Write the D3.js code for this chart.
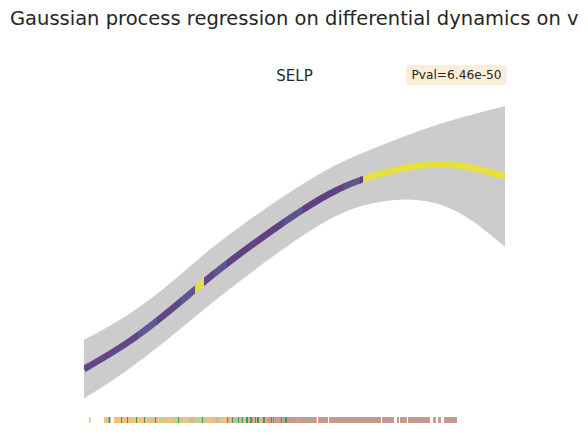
<!DOCTYPE html>
<html><head><meta charset="utf-8">
<script src="https://cdn.jsdelivr.net/npm/d3@7"></script>
<style>body{margin:0;background:#fff;} svg{display:block;font-family:"DejaVu Sans",sans-serif;}</style>
</head><body>
<script>
// ---- data ----
const titleText = "Gaussian process regression on differential dynamics on v";
const geneName = "SELP";
const pvalText = "Pval=6.46e-50";
// pseudotime grid and GP fit (mean, lower, upper)
const pseudotime = [0, 0.42, 0.84, 1.26, 1.68, 2.10, 2.53, 2.95, 3.37, 3.79, 4.21];
const gpMean  = [1.03, 1.88, 2.93, 4.10, 5.17, 6.15, 7.00, 7.53, 7.82, 7.80, 7.45];
const gpLower = [0.05, 0.97, 2.03, 3.18, 4.27, 5.28, 6.15, 6.60, 6.65, 6.17, 5.10];
const gpUpper = [2.01, 2.80, 3.83, 5.02, 6.07, 7.02, 7.85, 8.46, 8.99, 9.43, 9.80];
// colour of the fitted line along pseudotime: [start, end, value (0-1, viridis)]
const lineStart = [0, 0.53, 0.73, 0.96, 1.11, 1.20, 1.29, 1.43, 1.99, 2.19, 2.59, 2.76, 2.79];
const lineEnd   = [0.53, 0.73, 0.96, 1.11, 1.20, 1.29, 1.43, 1.99, 2.19, 2.59, 2.76, 2.79, 4.21];
const lineValue = [0.10, 0.17, 0.10, 0.16, 0.97, 0.10, 0.16, 0.08, 0.15, 0.08, 0.15, 0.10, 0.97];
// cell rug: runs of cells [start, end] with their cluster
const rugGroups = ["o","g","l","t","s","r"];
const rugColors = ["#fdbe79","#34a05d","#d0cb88","#dcb596","#ee9488","#c59b91"];
const rugRuns = [
 [0.05,0.065,"o"],[0.20,0.245,"o"],[0.245,0.265,"g"],[0.30,0.37,"o"],[0.37,0.385,"g"],
 [0.385,0.43,"o"],[0.43,0.445,"g"],[0.445,0.52,"o"],[0.52,0.535,"g"],[0.535,0.60,"o"],
 [0.60,0.615,"g"],[0.615,0.66,"o"],[0.66,0.71,"l"],[0.71,0.725,"g"],[0.725,0.76,"o"],
 [0.76,0.81,"l"],[0.81,0.84,"l"],[0.84,0.87,"o"],[0.87,0.94,"l"],[0.94,0.955,"g"],
 [0.955,0.99,"l"],[0.99,1.02,"o"],[1.02,1.06,"l"],[1.06,1.10,"t"],[1.10,1.18,"l"],
 [1.18,1.195,"g"],[1.195,1.24,"l"],[1.24,1.27,"o"],[1.27,1.32,"l"],[1.32,1.35,"t"],
 [1.35,1.40,"l"],[1.40,1.43,"o"],[1.43,1.44,"g"],[1.44,1.48,"t"],[1.48,1.495,"g"],
 [1.495,1.54,"t"],[1.54,1.555,"g"],[1.555,1.575,"t"],[1.575,1.59,"g"],[1.59,1.62,"l"],
 [1.62,1.64,"g"],[1.64,1.66,"t"],[1.66,1.68,"g"],[1.68,1.70,"s"],[1.70,1.71,"t"],
 [1.71,1.72,"g"],[1.72,1.73,"t"],[1.73,1.75,"g"],[1.75,1.79,"t"],[1.79,1.81,"g"],
 [1.81,1.82,"t"],[1.82,1.85,"s"],[1.85,1.87,"r"],[1.87,1.88,"g"],[1.88,1.89,"t"],
 [1.89,1.905,"g"],[1.905,1.94,"r"],[1.94,1.95,"s"],[1.95,1.97,"r"],[1.97,1.985,"g"],
 [1.985,2.01,"r"],[2.01,2.03,"g"],[2.03,2.13,"r"],[2.13,2.15,"s"],[2.15,2.237,"r"],
 [2.237,2.247,"g"],[2.247,2.327,"r"],[2.34,2.35,"s"],[2.35,2.44,"r"],[2.45,2.97,"r"],
 [2.98,3.10,"r"],[3.13,3.15,"r"],[3.16,3.23,"r"],[3.24,3.46,"r"],[3.49,3.52,"r"],
 [3.54,3.57,"r"],[3.60,3.73,"r"]
];

// ---- layout ----
const W = 588, H = 446;
const svg = d3.select("body").append("svg").attr("width", W).attr("height", H);
const x = d3.scaleLinear().domain([0, 4.21]).range([84, 505]);
const y = d3.scaleLinear().domain([0, 10]).range([400, 100]);
const rugColor = d3.scaleOrdinal().domain(rugGroups).range(rugColors);

const pts = pseudotime.map((t, i) => ({t, m: gpMean[i], lo: gpLower[i], hi: gpUpper[i]}));

// band
svg.append("path")
  .datum(pts)
  .attr("fill", "#cccccc")
  .attr("d", d3.area().x(d => x(d.t)).y0(d => y(d.lo)).y1(d => y(d.hi)).curve(d3.curveNatural));

// coloured mean line
const lineGen = d3.line().x(d => x(d.t)).y(d => y(d.m)).curve(d3.curveNatural);
const defs = svg.append("defs");
lineStart.forEach((s, i) => {
  defs.append("clipPath").attr("id", "seg" + i)
    .append("rect")
    .attr("x", x(s)).attr("width", x(lineEnd[i]) - x(s) + (i < lineStart.length - 1 ? 0.3 : 0))
    .attr("y", 0).attr("height", H);
});
lineStart.forEach((s, i) => {
  const c = d3.color(d3.interpolateViridis(lineValue[i]));
  svg.append("path")
    .datum(pts)
    .attr("clip-path", `url(#seg${i})`)
    .attr("fill", "none")
    .attr("stroke", c)
    .attr("stroke-opacity", 0.8)
    .attr("stroke-width", 6.5)
    .attr("d", lineGen);
});

// rug
svg.append("g").selectAll("rect").data(rugRuns).join("rect")
  .attr("x", d => x(d[0]))
  .attr("width", d => Math.max(1, x(d[1]) - x(d[0])))
  .attr("y", 417).attr("height", 6)
  .attr("fill", d => rugColor(d[2]));

// titles
svg.append("text").attr("x", 10).attr("y", 25)
  .attr("font-size", 19.5).attr("fill", "#262626").text(titleText);
svg.append("text").attr("x", 294.5).attr("y", 81).attr("text-anchor", "middle")
  .attr("font-size", 15).attr("fill", "#262626").text(geneName);
svg.append("rect").attr("x", 406).attr("y", 65).attr("width", 101).attr("height", 20)
  .attr("rx", 3).attr("fill", "#faedd9");
svg.append("text").attr("x", 456.5).attr("y", 79).attr("text-anchor", "middle")
  .attr("font-size", 12.2).attr("fill", "#262626").text(pvalText);
</script>
</body></html>
